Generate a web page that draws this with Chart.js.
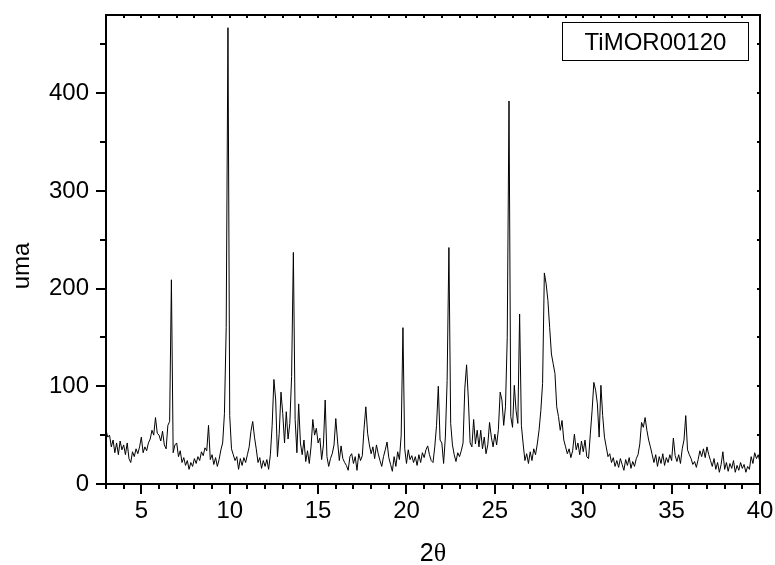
<!DOCTYPE html>
<html lang="pt">
<head>
  <meta charset="UTF-8">
  <title>TiMOR00120</title>
  <script src="https://cdn.jsdelivr.net/npm/chart.js"></script>
  <style>
    body { margin: 0; background: #fff; }
  </style>
</head>
<body>
  <canvas id="xrdChart" width="775" height="565"></canvas>

  <script>
    // varredura 2theta: 3.0 a 40.0 graus, passo 0.1
    const startAngle = 3.0;
    const angleStep = 0.1;

    const counts = [
      55, 48, 50, 38, 45, 32, 42, 30, 44, 35,
      40, 30, 42, 26, 22, 33, 28, 36, 31, 38,
      48, 32, 38, 34, 42, 46, 55, 50, 68, 52,
      50, 44, 54, 40, 36, 60, 64, 209, 32, 40,
      42, 28, 34, 22, 27, 19, 24, 15, 22, 18,
      26, 21, 28, 24, 33, 29, 37, 34, 60, 25,
      30, 20, 27, 18, 25, 35, 42, 72, 160, 467,
      70, 36, 30, 24, 28, 15, 26, 19, 27, 22,
      30, 38, 54, 64, 48, 36, 22, 27, 16, 24,
      18, 25, 15, 30, 60, 107, 86, 28, 52, 94,
      72, 42, 74, 46, 62, 110, 237, 66, 32, 82,
      42, 30, 45, 23, 34, 21, 38, 66, 50, 57,
      42, 47, 25, 40, 86, 28, 18, 26, 31, 40,
      67, 44, 24, 39, 26, 22, 19, 14, 28, 31,
      21, 28, 14, 31, 24, 29, 57, 79, 52, 40,
      31, 38, 26, 40, 31, 24, 18, 28, 35, 43,
      27, 20, 13, 28, 18, 33, 25, 50, 160, 36,
      21, 35, 25, 29, 22, 28, 19, 30, 22, 32,
      27, 35, 39, 30, 24, 22, 38, 60, 100, 45,
      42, 21, 48, 106, 242, 62, 40, 30, 23, 32,
      28, 34, 42, 98, 122, 87, 42, 38, 66, 41,
      55, 38, 55, 36, 48, 31, 40, 63, 48, 38,
      51, 40, 56, 94, 86, 60, 79, 150, 392, 69,
      58, 101, 75, 62, 174, 60, 41, 24, 31, 21,
      33, 24, 36, 30, 41, 55, 75, 103, 216, 205,
      188, 160, 133, 123, 113, 79, 69, 55, 65, 45,
      38, 31, 36, 27, 34, 51, 35, 42, 30, 44,
      33, 45, 28, 26, 51, 75, 104, 96, 82, 48,
      101, 70, 48, 38, 28, 31, 22, 27, 18, 24,
      17, 26, 20, 14, 25, 19, 27, 16, 23, 18,
      26, 30, 41, 63, 58, 68, 55, 45, 38, 30,
      22, 30, 18, 28, 21, 31, 19, 27, 22, 30,
      24, 47, 29, 23, 30, 21, 36, 45, 70, 35,
      30, 26, 20, 23, 17, 25, 34, 28, 36, 27,
      38, 30, 24, 18, 26, 15, 22, 12, 20, 33,
      15, 22, 13, 21, 16, 24, 12, 19, 14, 22,
      16, 20, 12, 18, 15, 28, 21, 32, 26, 30,
      22
    ];

    const xTickValues = [5, 10, 15, 20, 25, 30, 35, 40];
    const yTickValues = [0, 100, 200, 300, 400];
    const sampleName = 'TiMOR00120';
    const xTitleParts = ['2', 'θ'];
    const yTitle = 'uma';

    const points = counts.map((c, i) => ({
      x: Math.round((startAngle + i * angleStep) * 10) / 10,
      y: c
    }));

    const sansFont = "'Liberation Sans', Arial, sans-serif";

    // moldura, marcas de escala, legenda e titulos dos eixos
    const framePlugin = {
      id: 'frame',
      afterDraw(chart) {
        const { ctx, chartArea: a, scales } = chart;
        const xs = scales.x, ys = scales.y;
        ctx.save();
        ctx.strokeStyle = '#000';
        ctx.fillStyle = '#000';

        ctx.beginPath();
        ctx.lineWidth = 2;
        for (let v = 3; v <= 40; v++) {
          const px = Math.round(xs.getPixelForValue(v));
          const len = v % 5 === 0 ? 10 : 5;
          ctx.moveTo(px, a.bottom);
          ctx.lineTo(px, a.bottom + len);
          ctx.moveTo(px, a.top);
          ctx.lineTo(px, a.top + 3);
        }
        for (let v = 0; v <= 450; v += 50) {
          const py = Math.round(ys.getPixelForValue(v));
          const len = v % 100 === 0 ? 10 : 6;
          ctx.moveTo(a.left, py);
          ctx.lineTo(a.left - len, py);
          ctx.moveTo(a.right, py);
          ctx.lineTo(a.right - 3, py);
        }
        ctx.stroke();

        ctx.lineWidth = 2;
        ctx.strokeRect(a.left, a.top, a.right - a.left, a.bottom - a.top);

        // caixa com o nome da amostra
        ctx.lineWidth = 1;
        ctx.strokeRect(562.5, 22.5, 186, 38);
        ctx.font = '24px ' + sansFont;
        ctx.textAlign = 'center';
        ctx.textBaseline = 'alphabetic';
        ctx.fillText(sampleName, 655.5, 50);

        // titulo do eixo x: "2" sem serifa + theta com serifa
        const sans = '25px ' + sansFont;
        const serif = "26px 'Liberation Serif', 'Times New Roman', serif";
        ctx.font = sans;
        const w1 = ctx.measureText(xTitleParts[0]).width;
        ctx.font = serif;
        const w2 = ctx.measureText(xTitleParts[1]).width;
        const cx = (a.left + a.right) / 2;
        const tx = cx - (w1 + w2) / 2;
        ctx.textAlign = 'left';
        ctx.font = sans;
        ctx.fillText(xTitleParts[0], tx, 561);
        ctx.font = serif;
        ctx.fillText(xTitleParts[1], tx + w1, 561);

        // titulo do eixo y
        ctx.translate(29, 266);
        ctx.rotate(-Math.PI / 2);
        ctx.font = '24px ' + sansFont;
        ctx.textAlign = 'center';
        ctx.fillText(yTitle, 0, 0);
        ctx.restore();
      }
    };

    const ctx = document.getElementById('xrdChart').getContext('2d');
    new Chart(ctx, {
      type: 'line',
      data: {
        datasets: [{
          label: sampleName,
          data: points,
          borderColor: '#000',
          borderWidth: 1,
          pointRadius: 0,
          tension: 0,
          fill: false
        }]
      },
      options: {
        responsive: false,
        animation: false,
        events: [],
        devicePixelRatio: 1,
        layout: { padding: { top: 15, right: 15, left: 0, bottom: 0 } },
        plugins: { legend: { display: false }, tooltip: { enabled: false } },
        scales: {
          x: {
            type: 'linear',
            min: 3,
            max: 40,
            grid: { display: false, drawTicks: false },
            border: { display: false },
            afterBuildTicks: s => { s.ticks = xTickValues.map(v => ({ value: v })); },
            afterFit: s => {
              s.height = 81;
              s.paddingLeft = 0;
              s.paddingRight = 0;
            },
            ticks: {
              color: '#000',
              padding: 13,
              maxRotation: 0,
              autoSkip: false,
              font: { family: sansFont, size: 24 }
            }
          },
          y: {
            type: 'linear',
            min: 0,
            max: 480,
            grid: { display: false, drawTicks: false },
            border: { display: false },
            afterBuildTicks: s => { s.ticks = yTickValues.map(v => ({ value: v })); },
            afterFit: s => {
              s.width = 106;
              s.paddingTop = 0;
              s.paddingBottom = 0;
            },
            ticks: {
              color: '#000',
              padding: 17,
              font: { family: sansFont, size: 24 }
            }
          }
        }
      },
      plugins: [framePlugin]
    });
  </script>
</body>
</html>
